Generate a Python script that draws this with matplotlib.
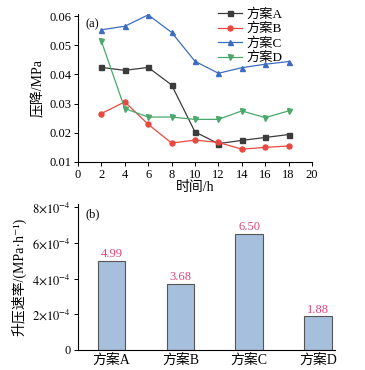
import matplotlib
matplotlib.use("Agg")
import matplotlib.pyplot as plt

plt.rcParams['font.family'] = ['Liberation Serif', 'Noto Sans CJK SC', 'DejaVu Serif']
plt.rcParams['mathtext.fontset'] = 'stix'

hours = [2, 4, 6, 8, 10, 12, 14, 16, 18]
plan_a = [0.0424, 0.0414, 0.0424, 0.0364, 0.0203, 0.0163, 0.0174, 0.0184, 0.0194]
plan_b = [0.0266, 0.0306, 0.0229, 0.0165, 0.0175, 0.0167, 0.0144, 0.0150, 0.0155]
plan_c = [0.0553, 0.0565, 0.0604, 0.0544, 0.0445, 0.0404, 0.0423, 0.0435, 0.0444]
plan_d = [0.0514, 0.0283, 0.0254, 0.0254, 0.0246, 0.0246, 0.0275, 0.0252, 0.0275]
series_labels = ['方案A', '方案B', '方案C', '方案D']

bar_labels = ['方案A', '方案B', '方案C', '方案D']
bar_values = [4.99e-4, 3.68e-4, 6.50e-4, 1.88e-4]
bar_texts = ['4.99', '3.68', '6.50', '1.88']

fig = plt.figure(figsize=(3.65, 3.70), dpi=100)

# ---- panel (a)
ax1 = fig.add_axes([78/365, 1-162/370, (312-78)/365, (162-14)/370])
cols = ['#3c3c3c', '#e8493f', '#3d6cc0', '#4aa86a']
marks = ['s', 'o', '^', 'v']
for ys, c, m, lab in zip([plan_a, plan_b, plan_c, plan_d], cols, marks, series_labels):
    ax1.plot(hours, ys, color=c, marker=m, markersize=3.6, linewidth=0.9, label=lab)
ax1.set_xlim(0, 20)
ax1.set_ylim(0.01, 0.0607)
ax1.set_xticks(range(0, 21, 2))
ax1.set_yticks([0.01, 0.02, 0.03, 0.04, 0.05, 0.06])
ax1.set_yticklabels(['0.01', '0.02', '0.03', '0.04', '0.05', '0.06'])
ax1.spines['top'].set_visible(False)
ax1.spines['right'].set_visible(False)
ax1.tick_params(direction='out', length=3, width=0.7, labelsize=9, pad=2)
ax1.set_xlabel('时间/h', fontsize=10, labelpad=0)
ax1.set_ylabel('压降/MPa', fontsize=10, labelpad=3)
ax1.text(0.03, 0.97, '(a)', transform=ax1.transAxes, fontsize=9, va='top', ha='left')
ax1.legend(loc='upper left', bbox_to_anchor=(0.56, 1.1), frameon=False, fontsize=9.5,
           handlelength=1.8, handletextpad=0.3, labelspacing=0.15, borderpad=0.2)

# ---- panel (b)
ax2 = fig.add_axes([78/365, 1-350/370, (335-78)/365, (350-204)/370])
xpos = list(range(len(bar_labels)))
ax2.bar(xpos, bar_values, width=0.4, color='#a6bfdd', edgecolor='#555555', linewidth=0.8)
for x, v, t in zip(xpos, bar_values, bar_texts):
    ax2.text(x, v + 0.05e-4, t, ha='center', va='bottom', color='#e0457b', fontsize=9)
ax2.set_xlim(-0.49, 3.25)
ax2.set_ylim(0, 8.17e-4)
ax2.set_xticks(xpos)
ax2.set_xticklabels(bar_labels)
yt = [0, 2e-4, 4e-4, 6e-4, 8e-4]
ax2.set_yticks(yt)
ax2.set_yticklabels(['0', r'$2{\times}10^{-4}$', r'$4{\times}10^{-4}$', r'$6{\times}10^{-4}$', r'$8{\times}10^{-4}$'])
ax2.spines['top'].set_visible(False)
ax2.spines['right'].set_visible(False)
ax2.tick_params(axis='y', direction='out', length=3, width=0.7, labelsize=9, pad=2)
ax2.tick_params(axis='x', length=0, labelsize=10, pad=3)
ax2.set_ylabel('升压速率/(MPa·h⁻¹)', fontsize=10, labelpad=4)
ax2.text(0.03, 0.97, '(b)', transform=ax2.transAxes, fontsize=9, va='top', ha='left')

fig.savefig('out.png', dpi=100)
